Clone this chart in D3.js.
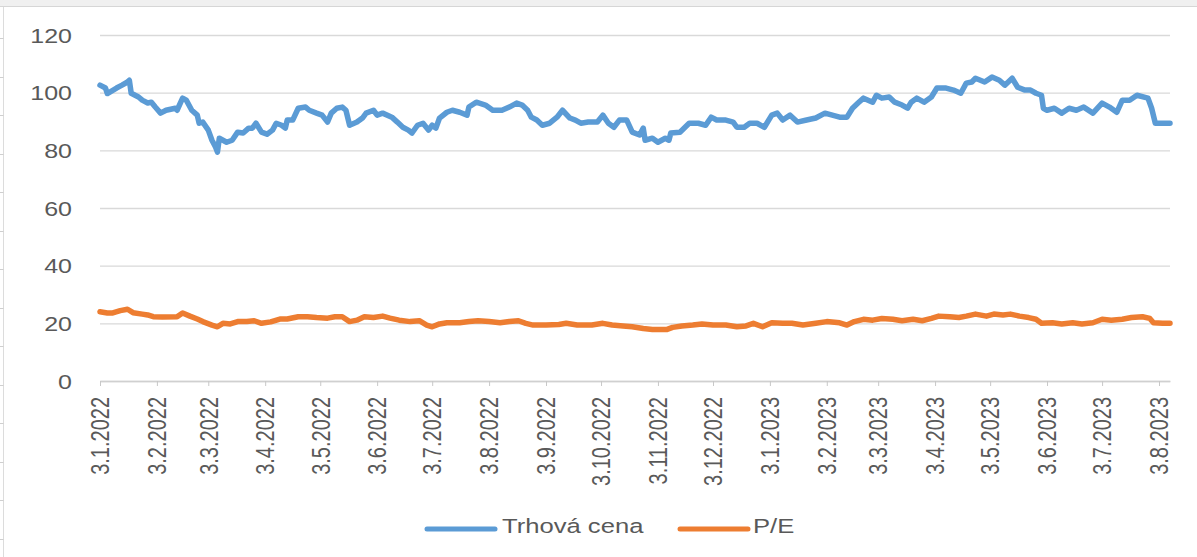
<!DOCTYPE html>
<html>
<head>
<meta charset="utf-8">
<script src="https://cdn.jsdelivr.net/npm/d3@7"></script>
<style>
  body { margin: 0; background: #fff; }
  text { font-family: "Liberation Sans", Arial, sans-serif; fill: #595959; }
</style>
</head>
<body>
<div id="chart"></div>
<script>

// 1. Data
const priceDates = [
  "2022-01-03","2022-01-06","2022-01-07","2022-01-12","2022-01-15","2022-01-18","2022-01-19","2022-01-20",
  "2022-01-24","2022-01-26","2022-01-29","2022-01-31","2022-02-02","2022-02-05","2022-02-08","2022-02-13",
  "2022-02-14","2022-02-17","2022-02-19","2022-02-22","2022-02-25","2022-02-26","2022-02-28","2022-03-03",
  "2022-03-05","2022-03-07","2022-03-08","2022-03-09","2022-03-13","2022-03-16","2022-03-19","2022-03-22",
  "2022-03-25","2022-03-27","2022-03-29","2022-04-01","2022-04-04","2022-04-07","2022-04-09","2022-04-12",
  "2022-04-14","2022-04-15","2022-04-18","2022-04-21","2022-04-25","2022-04-27","2022-05-01","2022-05-04",
  "2022-05-07","2022-05-09","2022-05-12","2022-05-15","2022-05-17","2022-05-19","2022-05-23","2022-05-26",
  "2022-05-28","2022-06-01","2022-06-03","2022-06-06","2022-06-11","2022-06-14","2022-06-17","2022-06-20",
  "2022-06-22","2022-06-25","2022-06-28","2022-07-01","2022-07-03","2022-07-05","2022-07-07","2022-07-11",
  "2022-07-14","2022-07-18","2022-07-22","2022-07-23","2022-07-27","2022-08-01","2022-08-05","2022-08-10",
  "2022-08-14","2022-08-18","2022-08-21","2022-08-24","2022-08-26","2022-08-29","2022-09-01","2022-09-05",
  "2022-09-09","2022-09-12","2022-09-16","2022-09-19","2022-09-22","2022-09-26","2022-10-01","2022-10-04",
  "2022-10-07","2022-10-10","2022-10-13","2022-10-17","2022-10-20","2022-10-24","2022-10-26","2022-10-27",
  "2022-10-31","2022-11-03","2022-11-07","2022-11-09","2022-11-10","2022-11-15","2022-11-20","2022-11-25",
  "2022-11-29","2022-12-02","2022-12-05","2022-12-10","2022-12-14","2022-12-16","2022-12-20","2022-12-23",
  "2022-12-27","2022-12-31","2023-01-04","2023-01-07","2023-01-10","2023-01-14","2023-01-18","2023-01-23",
  "2023-01-28","2023-02-02","2023-02-06","2023-02-10","2023-02-14","2023-02-17","2023-02-20","2023-02-23",
  "2023-02-28","2023-03-02","2023-03-05","2023-03-09","2023-03-12","2023-03-16","2023-03-19","2023-03-21",
  "2023-03-24","2023-03-28","2023-04-01","2023-04-04","2023-04-09","2023-04-13","2023-04-17","2023-04-20",
  "2023-04-23","2023-04-25","2023-04-30","2023-05-04","2023-05-08","2023-05-11","2023-05-15","2023-05-18",
  "2023-05-22","2023-05-25","2023-05-28","2023-05-31","2023-06-01","2023-06-03","2023-06-07","2023-06-11",
  "2023-06-15","2023-06-19","2023-06-23","2023-06-28","2023-07-03","2023-07-07","2023-07-11","2023-07-14",
  "2023-07-18","2023-07-22","2023-07-28","2023-07-30","2023-08-01","2023-08-04","2023-08-09"
];
const priceValues = [
  102.6,101.6,99.7,101.6,102.6,103.7,104.3,99.8,
  98.5,97.4,96.4,96.7,95.1,92.9,93.9,94.6,
  93.9,98.1,97.4,93.9,92.2,89.4,89.8,87.0,
  83.5,81.1,79.4,84.2,82.8,83.5,86.3,86.0,
  87.7,87.7,89.4,86.3,85.6,87.0,89.4,88.7,
  87.7,90.5,90.5,94.6,95.0,93.9,92.9,92.2,
  89.8,92.9,94.6,95.0,93.9,88.7,89.8,91.2,
  92.9,93.9,92.2,92.9,91.5,89.8,88.0,87.0,
  86.0,88.7,89.4,87.0,88.7,87.7,91.2,93.2,
  93.9,93.2,92.2,95.0,96.7,95.7,93.9,93.9,
  95.0,96.4,95.7,93.9,91.5,90.5,88.7,89.4,
  91.5,93.9,91.2,90.5,89.4,89.8,89.8,92.2,
  89.4,88.0,90.5,90.5,86.3,85.3,87.7,83.5,
  84.2,82.8,84.2,83.5,86.0,86.3,89.4,89.4,
  88.7,91.5,90.5,90.5,89.8,88.0,88.0,89.4,
  89.4,88.0,92.2,92.9,90.5,92.2,89.8,90.5,
  91.2,92.9,92.2,91.5,91.5,94.6,96.4,98.1,
  96.7,99.1,98.1,98.5,96.7,95.7,94.6,96.7,
  98.1,96.7,98.5,101.6,101.6,100.9,99.8,103.3,
  103.7,105.0,103.7,105.4,104.3,102.6,105.0,101.9,
  100.9,100.9,99.8,99.1,94.6,93.9,94.6,92.9,
  94.6,93.9,95.0,92.9,96.4,95.0,93.2,97.4,
  97.4,99.1,98.1,94.6,89.4,89.4,89.4
];

const peDates = [
  "2022-01-03","2022-01-07","2022-01-10","2022-01-14","2022-01-18","2022-01-21","2022-01-26","2022-01-29",
  "2022-02-01","2022-02-06","2022-02-14","2022-02-17","2022-02-21","2022-02-25","2022-02-28","2022-03-05",
  "2022-03-08","2022-03-11","2022-03-15","2022-03-19","2022-03-24","2022-03-28","2022-04-01","2022-04-06",
  "2022-04-11","2022-04-15","2022-04-21","2022-04-26","2022-05-01","2022-05-07","2022-05-11","2022-05-15",
  "2022-05-19","2022-05-23","2022-05-27","2022-06-01","2022-06-06","2022-06-10","2022-06-15","2022-06-21",
  "2022-06-26","2022-06-30","2022-07-03","2022-07-07","2022-07-11","2022-07-18","2022-07-23","2022-07-28",
  "2022-08-03","2022-08-09","2022-08-14","2022-08-19","2022-08-23","2022-08-27","2022-09-03","2022-09-10",
  "2022-09-14","2022-09-20","2022-09-28","2022-10-04","2022-10-09","2022-10-15","2022-10-20","2022-10-26",
  "2022-10-31","2022-11-08","2022-11-11","2022-11-16","2022-11-22","2022-11-27","2022-12-03","2022-12-10",
  "2022-12-16","2022-12-21","2022-12-25","2022-12-30","2023-01-04","2023-01-10","2023-01-15","2023-01-21",
  "2023-01-28","2023-02-03","2023-02-10","2023-02-14","2023-02-18","2023-02-23","2023-02-28","2023-03-05",
  "2023-03-11","2023-03-16","2023-03-22","2023-03-27","2023-04-01","2023-04-05","2023-04-11","2023-04-16",
  "2023-04-20","2023-04-25","2023-05-01","2023-05-05","2023-05-10","2023-05-14","2023-05-19","2023-05-24",
  "2023-05-28","2023-05-31","2023-06-06","2023-06-11","2023-06-17","2023-06-22","2023-06-28","2023-07-03",
  "2023-07-08","2023-07-14","2023-07-19","2023-07-25","2023-07-29","2023-07-31","2023-08-05","2023-08-09"
];
const peValues = [
  24.0,23.6,23.6,24.4,24.9,23.7,23.2,22.9,
  22.3,22.2,22.3,23.6,22.5,21.5,20.6,19.4,
  18.8,20.0,19.8,20.6,20.6,20.9,20.0,20.5,
  21.5,21.5,22.3,22.3,22.0,21.8,22.3,22.3,
  20.6,21.1,22.3,22.0,22.5,21.8,21.1,20.6,
  20.9,19.4,18.8,19.8,20.2,20.2,20.6,20.9,
  20.6,20.2,20.6,20.9,20.0,19.4,19.4,19.6,
  20.0,19.4,19.4,20.0,19.4,19.1,18.8,18.2,
  17.9,17.9,18.6,19.1,19.4,19.8,19.4,19.4,
  18.8,19.1,20.0,18.8,20.2,20.0,20.0,19.4,
  20.0,20.6,20.2,19.4,20.6,21.4,21.1,21.7,
  21.4,20.9,21.4,20.9,21.7,22.5,22.3,22.0,
  22.5,23.2,22.5,23.2,22.9,23.2,22.5,22.0,
  21.4,20.0,20.2,19.8,20.2,19.8,20.2,21.4,
  21.1,21.4,22.0,22.3,21.7,20.2,20.0,20.0
];

const xTickDates = [
  "2022-01-03","2022-02-03","2022-03-03","2022-04-03","2022-05-03","2022-06-03","2022-07-03",
  "2022-08-03","2022-09-03","2022-10-03","2022-11-03","2022-12-03","2023-01-03","2023-02-03",
  "2023-03-03","2023-04-03","2023-05-03","2023-06-03","2023-07-03","2023-08-03"
];
const yTicks = [0, 20, 40, 60, 80, 100, 120];
const seriesNames = ["Trhová cena", "P/E"];
const seriesColors = ["#5b9bd5", "#ed7d31"];

// 2. Dimensions
const dimensions = {
  width: 1197,
  height: 557,
  margin: { top: 35, right: 27, bottom: 176, left: 100 }
};
dimensions.boundedWidth = dimensions.width - dimensions.margin.left - dimensions.margin.right;
dimensions.boundedHeight = dimensions.height - dimensions.margin.top - dimensions.margin.bottom;

const parseDate = d3.timeParse("%Y-%m-%d");
const formatTick = d3.timeFormat("%-d.%-m.%Y");

// 3. Canvas
const wrapper = d3.select("#chart")
  .append("svg")
    .attr("width", dimensions.width)
    .attr("height", dimensions.height);

// page frame around the chart (grey band on top, ruler on the left)
wrapper.append("rect")
  .attr("x", 0).attr("y", 0)
  .attr("width", dimensions.width).attr("height", 6)
  .attr("fill", "#f0f0f0");
wrapper.append("line")
  .attr("x1", 0).attr("x2", dimensions.width)
  .attr("y1", 6.5).attr("y2", 6.5)
  .attr("stroke", "#d6d6d6");
wrapper.append("line")
  .attr("x1", 3.5).attr("x2", 3.5)
  .attr("y1", 7).attr("y2", dimensions.height)
  .attr("stroke", "#dcdcdc");
wrapper.append("g").selectAll("line")
  .data(d3.range(38, dimensions.height, 38.5))
  .join("line")
    .attr("x1", 0).attr("x2", 3.5)
    .attr("y1", d => Math.round(d) + 0.5).attr("y2", d => Math.round(d) + 0.5)
    .attr("stroke", "#cfcfcf");

const bounds = wrapper.append("g")
  .attr("transform", `translate(${dimensions.margin.left},${dimensions.margin.top})`);

// 4. Scales
const xScale = d3.scaleTime()
  .domain([parseDate("2022-01-03"), parseDate("2023-08-09")])
  .range([0, dimensions.boundedWidth]);

const yScale = d3.scaleLinear()
  .domain([0, 120])
  .range([dimensions.boundedHeight, 0]);

// 5. Axes
const yAxis = bounds.append("g")
  .call(d3.axisLeft(yScale)
    .tickValues(yTicks)
    .tickSize(-dimensions.boundedWidth)
    .tickFormat(d3.format("d")));
yAxis.select(".domain").remove();
yAxis.selectAll(".tick line").attr("stroke", "#d9d9d9").attr("stroke-width", 1.3);
yAxis.selectAll(".tick text")
  .attr("x", 0)
  .attr("dy", "0.35em")
  .attr("transform", "translate(-28,0) scale(1.25,1)")
  .attr("text-anchor", "end")
  .style("font-size", "20px")
  .attr("fill", "#595959");

const xAxis = bounds.append("g")
  .attr("transform", `translate(0,${dimensions.boundedHeight})`)
  .call(d3.axisBottom(xScale)
    .tickValues(xTickDates.map(parseDate))
    .tickSize(5)
    .tickSizeOuter(0)
    .tickFormat(formatTick));
xAxis.select(".domain").attr("stroke", "#d0d0d0").attr("stroke-width", 1.3);
xAxis.selectAll(".tick line").attr("stroke", "#c8c8c8");
xAxis.selectAll(".tick text")
  .attr("x", 0)
  .attr("y", 0)
  .attr("dy", "0.35em")
  .attr("transform", "translate(0,16) scale(1.25,1) rotate(-90)")
  .attr("text-anchor", "end")
  .style("font-size", "20px")
  .attr("fill", "#595959");

// 6. Lines
const series = [
  { name: seriesNames[0], color: seriesColors[0], dates: priceDates, values: priceValues },
  { name: seriesNames[1], color: seriesColors[1], dates: peDates, values: peValues }
];

const lineGenerator = d3.line()
  .x(d => xScale(d[0]))
  .y(d => yScale(d[1]));

series.forEach(s => {
  const points = s.dates.map((d, i) => [parseDate(d), s.values[i]]);
  bounds.append("path")
    .attr("d", lineGenerator(points))
    .attr("fill", "none")
    .attr("stroke", s.color)
    .attr("stroke-width", 5.5)
    .attr("stroke-linejoin", "round")
    .attr("stroke-linecap", "round");
});

// 7. Legend
const legendItems = [
  { x: 427, textX: 502 },
  { x: 680, textX: 753 }
];
const legend = wrapper.append("g");
series.forEach((s, i) => {
  legend.append("line")
    .attr("x1", legendItems[i].x).attr("x2", legendItems[i].x + 68)
    .attr("y1", 529).attr("y2", 529)
    .attr("stroke", s.color)
    .attr("stroke-width", 5)
    .attr("stroke-linecap", "round");
  legend.append("text")
    .attr("transform", `translate(${legendItems[i].textX},533) scale(1.25,1)`)
    .style("font-size", "20.5px")
    .text(s.name);
});

</script>
</body>
</html>
